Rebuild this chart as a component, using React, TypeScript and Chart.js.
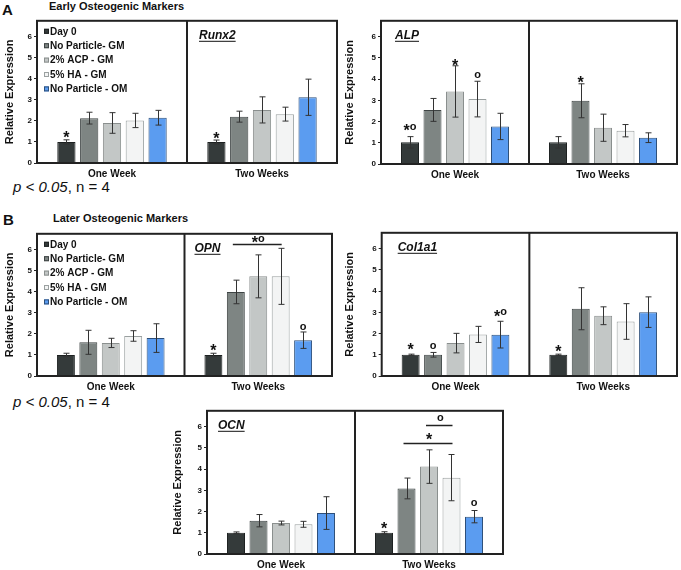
import React, { useEffect, useRef } from "react";
import { Chart, registerables } from "chart.js";
Chart.register(...registerables);

const FONT = '"Liberation Sans", Arial, Helvetica, sans-serif';
Chart.defaults.font.family = FONT;

const seriesNames = ["Day 0", "No Particle- GM", "2% ACP - GM", "5% HA - GM", "No Particle - OM"];
const groups = ["One Week", "Two Weeks"];
const yTicks = [0, 1, 2, 3, 4, 5, 6];
const yMax = 6.75;
const fills = ["#343a3a", "#7e8583", "#c3c7c6", "#f3f4f4", "#5b9cf0"];
const borders = ["#1e2222", "#3e4444", "#8a8f8e", "#9aa0a0", "#2d4f7a"];

// Runx2
const runx2Week1 = [1.0, 2.13, 1.9, 2.02, 2.15];
const runx2Week2 = [1.0, 2.2, 2.52, 2.32, 3.12];
const runx2Err1 = [0.1, 0.28, 0.49, 0.34, 0.35];
const runx2Err2 = [0.09, 0.26, 0.62, 0.33, 0.86];
// ALP
const alpWeek1 = [1.02, 2.55, 3.42, 3.06, 1.77];
const alpWeek2 = [1.02, 2.98, 1.71, 1.57, 1.24];
const alpErr1 = [0.27, 0.54, 1.21, 0.84, 0.62];
const alpErr2 = [0.27, 0.8, 0.64, 0.29, 0.23];
// OPN
const opnWeek1 = [1.0, 1.6, 1.57, 1.9, 1.8];
const opnWeek2 = [1.0, 3.99, 4.73, 4.73, 1.7];
const opnErr1 = [0.08, 0.57, 0.22, 0.25, 0.68];
const opnErr2 = [0.08, 0.56, 1.02, 1.33, 0.39];
// Col1a1
const colWeek1 = [1.0, 1.0, 1.55, 1.96, 1.95];
const colWeek2 = [1.0, 3.17, 2.84, 2.57, 3.01];
const colErr1 = [0.03, 0.11, 0.46, 0.38, 0.63];
const colErr2 = [0.03, 0.99, 0.42, 0.84, 0.72];
// OCN
const ocnWeek1 = [1.0, 1.57, 1.46, 1.4, 1.93];
const ocnWeek2 = [1.0, 3.09, 4.12, 3.6, 1.76];
const ocnErr1 = [0.04, 0.29, 0.09, 0.14, 0.77];
const ocnErr2 = [0.05, 0.49, 0.79, 1.09, 0.29];

type Mark = { g: number; b: number; text: string; v: number };
type Bracket = { g: number; from: number; to: number; v: number; text: string; tv: number };
type PanelCfg = {
  gene: string;
  w1: number[]; w2: number[]; e1: number[]; e2: number[];
  area: { l: number; t: number; r: number; b: number };
  canvasLeft: number;
  legend: boolean;
  geneAt: { g: number; dx: number };
  marks: Mark[];
  brackets: Bracket[];
};

const panels: PanelCfg[] = [
  {
    gene: "Runx2", w1: runx2Week1, w2: runx2Week2, e1: runx2Err1, e2: runx2Err2,
    area: { l: 37, t: 20, r: 336.5, b: 163.3 }, canvasLeft: 0, legend: true,
    geneAt: { g: 1, dx: 12 },
    marks: [{ g: 0, b: 0, text: "*", v: 1.4 }, { g: 1, b: 0, text: "*", v: 1.35 }],
    brackets: [],
  },
  {
    gene: "ALP", w1: alpWeek1, w2: alpWeek2, e1: alpErr1, e2: alpErr2,
    area: { l: 381, t: 19.5, r: 676.5, b: 163.3 }, canvasLeft: 340, legend: false,
    geneAt: { g: 0, dx: 14 },
    marks: [
      { g: 0, b: 0, text: "*o", v: 1.76 },
      { g: 0, b: 2, text: "*", v: 4.8 },
      { g: 0, b: 3, text: "o", v: 4.2 },
      { g: 1, b: 1, text: "*", v: 4.04 },
    ],
    brackets: [],
  },
  {
    gene: "OPN", w1: opnWeek1, w2: opnWeek2, e1: opnErr1, e2: opnErr2,
    area: { l: 37, t: 232.5, r: 332, b: 375.7 }, canvasLeft: 0, legend: true,
    geneAt: { g: 1, dx: 10 },
    marks: [{ g: 1, b: 0, text: "*", v: 1.37 }, { g: 1, b: 4, text: "o", v: 2.34 }],
    brackets: [{ g: 1, from: 1, to: 3, v: 6.26, text: "*o", tv: 6.52 }],
  },
  {
    gene: "Col1a1", w1: colWeek1, w2: colWeek2, e1: colErr1, e2: colErr2,
    area: { l: 381.7, t: 232, r: 677, b: 375.7 }, canvasLeft: 340, legend: false,
    geneAt: { g: 0, dx: 16 },
    marks: [
      { g: 0, b: 0, text: "*", v: 1.45 },
      { g: 0, b: 1, text: "o", v: 1.4 },
      { g: 0, b: 4, text: "*o", v: 3.0 },
      { g: 1, b: 0, text: "*", v: 1.33 },
    ],
    brackets: [],
  },
  {
    gene: "OCN", w1: ocnWeek1, w2: ocnWeek2, e1: ocnErr1, e2: ocnErr2,
    area: { l: 207, t: 409.5, r: 503, b: 553.3 }, canvasLeft: 168, legend: false,
    geneAt: { g: 0, dx: 11 },
    marks: [{ g: 1, b: 0, text: "*", v: 1.36 }, { g: 1, b: 4, text: "o", v: 2.38 }],
    brackets: [
      { g: 1, from: 1, to: 3, v: 5.24, text: "*", tv: 5.56 },
      { g: 1, from: 2, to: 3, v: 6.1, text: "o", tv: 6.4 },
    ],
  },
];

const TXT = "#111";

function drawSymbols(ctx: CanvasRenderingContext2D, text: string, xc: number, yc: number) {
  const parts = text.split("");
  const fontFor = (c: string) => (c === "*" ? `bold 16px ${FONT}` : `bold 11px ${FONT}`);
  let total = 0;
  const widths = parts.map((c) => {
    ctx.font = fontFor(c);
    const w = ctx.measureText(c).width;
    total += w;
    return w;
  });
  let x = xc - total / 2;
  ctx.textAlign = "left";
  ctx.textBaseline = "alphabetic";
  ctx.fillStyle = TXT;
  parts.forEach((c, i) => {
    ctx.font = fontFor(c);
    const base = c === "*" ? yc + 0.58 * 16 : yc + 0.27 * 11;
    ctx.fillText(c, x, base);
    x += widths[i];
  });
}

function Panel({ cfg }: { cfg: PanelCfg }) {
  const ref = useRef<HTMLCanvasElement>(null);
  const top = cfg.area.t - 6;
  const axisH = 20;
  const padBottom = 4;
  const width = Math.round(cfg.area.r + 3 - cfg.canvasLeft);
  const height = Math.round(cfg.area.b + axisH + padBottom - top);
  useEffect(() => {
    if (!ref.current) return;
    const errs = [cfg.e1, cfg.e2];
    const datasets = seriesNames.map((name, i) => ({
      label: name,
      data: [cfg.w1[i], cfg.w2[i]],
      backgroundColor: fills[i],
      borderColor: borders[i],
      borderWidth: 1,
      categoryPercentage: 0.76,
      barPercentage: 0.8,
    }));
    const overlay = {
      id: "overlay",
      afterDraw(chart: any) {
        const ctx: CanvasRenderingContext2D = chart.ctx;
        const ys = chart.scales.y;
        const xs = chart.scales.x;
        const ca = chart.chartArea;
        const barX = (i: number, g: number) => chart.getDatasetMeta(i).data[g].x;
        ctx.save();
        // error bars
        ctx.strokeStyle = "#333";
        ctx.lineWidth = 1;
        seriesNames.forEach((_, i) => {
          [0, 1].forEach((g) => {
            const m = g === 0 ? cfg.w1[i] : cfg.w2[i];
            const e = errs[g][i];
            const x = Math.round(barX(i, g)) + 0.5;
            const yh = ys.getPixelForValue(m + e);
            const yl = ys.getPixelForValue(m - e);
            ctx.beginPath();
            ctx.moveTo(x, yh); ctx.lineTo(x, yl);
            ctx.moveTo(x - 3, yh); ctx.lineTo(x + 3, yh);
            ctx.moveTo(x - 3, yl); ctx.lineTo(x + 3, yl);
            ctx.stroke();
          });
        });
        // box + divider
        ctx.strokeStyle = "#222";
        ctx.lineWidth = 2;
        ctx.strokeRect(ca.left, ca.top, ca.right - ca.left, ca.bottom - ca.top);
        const mid = (xs.getPixelForValue(0) + xs.getPixelForValue(1)) / 2;
        ctx.beginPath();
        ctx.moveTo(mid, ca.top); ctx.lineTo(mid, ca.bottom);
        ctx.stroke();
        // legend
        if (cfg.legend) {
          ctx.font = `bold 10px ${FONT}`;
          ctx.textBaseline = "middle";
          ctx.textAlign = "left";
          seriesNames.forEach((name, i) => {
            const yc = ca.top + 11 + i * 14.4;
            ctx.fillStyle = fills[i];
            ctx.fillRect(ca.left + 7, yc - 3, 5, 5);
            ctx.strokeStyle = borders[i];
            ctx.lineWidth = 1;
            ctx.strokeRect(ca.left + 7.5, yc - 2.5, 4, 4);
            ctx.fillStyle = TXT;
            ctx.fillText(name, ca.left + 13, yc);
          });
        }
        // gene label
        const gLeft = cfg.geneAt.g === 0 ? ca.left : mid;
        ctx.font = `italic bold 12px ${FONT}`;
        ctx.textAlign = "left";
        ctx.textBaseline = "alphabetic";
        ctx.fillStyle = TXT;
        const gx = gLeft + cfg.geneAt.dx;
        const gb = ca.top + 18;
        ctx.fillText(cfg.gene, gx, gb);
        const gw = ctx.measureText(cfg.gene).width;
        ctx.strokeStyle = TXT;
        ctx.lineWidth = 1;
        ctx.beginPath();
        ctx.moveTo(gx, gb + 2.5); ctx.lineTo(gx + gw, gb + 2.5);
        ctx.stroke();
        // marks
        cfg.marks.forEach((mk) => {
          drawSymbols(ctx, mk.text, barX(mk.b, mk.g), ys.getPixelForValue(mk.v));
        });
        // brackets
        cfg.brackets.forEach((br) => {
          const x1 = barX(br.from, br.g);
          const x2 = barX(br.to, br.g);
          const y = Math.round(ys.getPixelForValue(br.v)) + 0.5;
          ctx.strokeStyle = "#222";
          ctx.lineWidth = 1.5;
          ctx.beginPath();
          ctx.moveTo(x1 - 3, y); ctx.lineTo(x2 + 1, y);
          ctx.stroke();
          drawSymbols(ctx, br.text, (x1 + x2) / 2, ys.getPixelForValue(br.tv));
        });
        ctx.restore();
      },
    };
    const chart = new Chart(ref.current, {
      type: "bar",
      data: { labels: groups, datasets },
      options: {
        responsive: false,
        animation: false,
        devicePixelRatio: 1,
        layout: { padding: { top: 6, right: 3, left: 0, bottom: padBottom } },
        plugins: { legend: { display: false }, tooltip: { enabled: false } },
        scales: {
          x: {
            grid: { display: false, drawTicks: false },
            border: { display: false },
            ticks: { color: TXT, font: { size: 10, weight: "bold" }, padding: 5, maxRotation: 0 },
            afterFit: (s: any) => { s.height = axisH; },
          },
          y: {
            min: 0,
            max: yMax,
            afterBuildTicks: (s: any) => { s.ticks = yTicks.map((v) => ({ value: v })); },
            grid: { drawOnChartArea: false, drawTicks: true, tickLength: 3, color: "#222", lineWidth: 1 },
            border: { display: false },
            ticks: { color: TXT, font: { size: 8, weight: "bold" }, padding: 2 },
            title: {
              display: true, text: "Relative Expression", color: TXT,
              font: { size: 11, weight: "bold" }, padding: { top: 3, bottom: 0 },
            },
            afterFit: (s: any) => { s.width = cfg.area.l - cfg.canvasLeft; },
          },
        },
      } as any,
      plugins: [overlay],
    });
    return () => chart.destroy();
  }, []);
  return (
    <canvas
      ref={ref}
      width={width}
      height={height}
      style={{ position: "absolute", left: cfg.canvasLeft, top, width, height }}
    />
  );
}

function Txt({ x, base, size, bold, children }: { x: number; base: number; size: number; bold?: boolean; children: any }) {
  return (
    <div
      style={{
        position: "absolute", left: x, top: base - 0.8465 * size, fontSize: size, lineHeight: 1,
        fontFamily: FONT, fontWeight: bold ? "bold" : "normal", color: TXT, whiteSpace: "nowrap",
      }}
    >
      {children}
    </div>
  );
}

export default function App() {
  return (
    <div style={{ position: "fixed", left: 0, top: 0, width: 681, height: 570, background: "#fff", overflow: "hidden" }}>
      <Txt x={2} base={15} size={15} bold>A</Txt>
      <Txt x={49} base={10} size={11} bold>Early Osteogenic Markers</Txt>
      <Txt x={13} base={192} size={15}><i>p &lt; 0.05</i>, n = 4</Txt>
      <Txt x={3} base={224.5} size={15} bold>B</Txt>
      <Txt x={53} base={222} size={11} bold>Later Osteogenic Markers</Txt>
      <Txt x={13} base={407} size={15}><i>p &lt; 0.05</i>, n = 4</Txt>
      {panels.map((p) => (
        <Panel key={p.gene} cfg={p} />
      ))}
    </div>
  );
}
